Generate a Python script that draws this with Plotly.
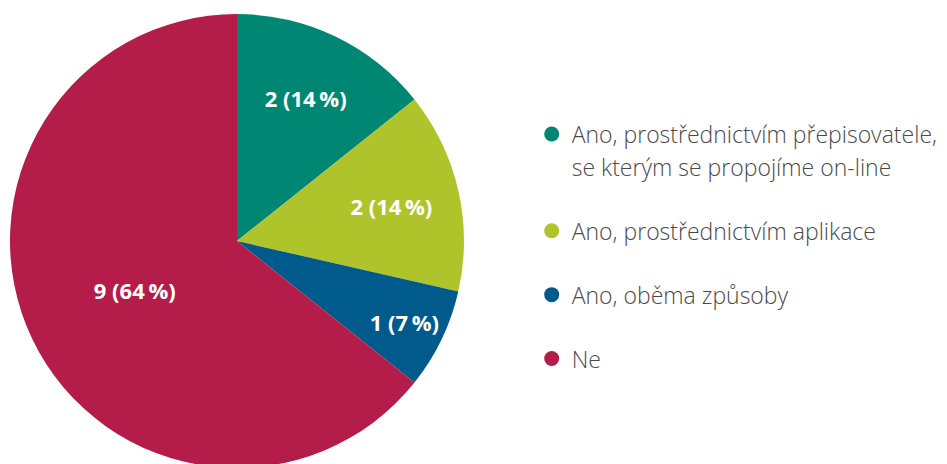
import plotly.graph_objects as go

categories = [
    "Ano, prostřednictvím přepisovatele, se kterým se propojíme on-line",
    "Ano, prostřednictvím aplikace",
    "Ano, oběma způsoby",
    "Ne",
]
legend_lines = [
    ["Ano, prostřednictvím přepisovatele,", "se kterým se propojíme on-line"],
    ["Ano, prostřednictvím aplikace"],
    ["Ano, oběma způsoby"],
    ["Ne"],
]
values = [2, 2, 1, 9]
colors = ["#008773", "#AFC42B", "#005A8C", "#B41C49"]

total = sum(values)
labels_text = [f"{v} ({round(v / total * 100)}\u2009%)" for v in values]

W, H = 947, 464

fig = go.Figure()
fig.add_trace(go.Pie(
    labels=categories,
    values=values,
    text=labels_text,
    textinfo="text",
    textposition="inside",
    insidetextorientation="horizontal",
    sort=False,
    direction="clockwise",
    rotation=0,
    marker=dict(colors=colors, line=dict(width=0)),
    textfont=dict(family="Open Sans", size=22, color="white", weight="bold"),
    showlegend=False,
    domain=dict(x=[2 / W, 456 / W], y=[0, 1]),
    hoverinfo="label+value+percent",
))

for i, (lines, col) in enumerate(zip(legend_lines, colors)):
    for j, line in enumerate(lines):
        fig.add_trace(go.Scatter(
            x=[None], y=[None], mode="markers",
            marker=dict(color=col if j == 0 else "rgba(0,0,0,0)", size=15, symbol="circle"),
            name=line, legendgroup=f"g{i}", showlegend=True, hoverinfo="skip",
        ))

fig.update_layout(
    width=W, height=H,
    margin=dict(l=0, r=0, t=6, b=4),
    paper_bgcolor="white", plot_bgcolor="white",
    xaxis=dict(visible=False), yaxis=dict(visible=False),
    legend=dict(
        x=0.553, y=0.783, xanchor="left", yanchor="top",
        font=dict(family="Open Sans", size=23, color="#4a4a4a", weight=300),
        traceorder="grouped", tracegroupgap=31,
        itemsizing="trace", bgcolor="rgba(0,0,0,0)",
        itemclick=False, itemdoubleclick=False,
    ),
)

fig.write_html("out.html")
